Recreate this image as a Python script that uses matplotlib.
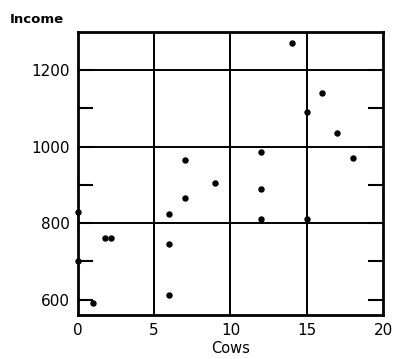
import matplotlib.pyplot as plt

# cows vs income
cows = [0, 0, 1, 1.8, 2.2, 6, 7, 6, 6, 7, 9, 12, 12, 12, 15, 15, 14, 16, 17, 18]
income = [830, 700, 590, 760, 760, 825, 865, 745, 613, 965, 905, 987, 890, 810, 810, 1090, 1270, 1140, 1035, 970]

x_ticks = [0, 5, 10, 15, 20]
y_ticks = [600, 800, 1000, 1200]
x_grid = [5, 10, 15]
y_grid = [800, 1000, 1200]
y_short = [700, 900, 1100]

fig = plt.figure(figsize=(3.93, 3.59), dpi=100)
ax = fig.add_axes([0.198, 0.123, 0.777, 0.788])

ax.scatter(cows, income, s=13, color='black', zorder=3, clip_on=False)

ax.set_xlim(0, 20)
ax.set_ylim(560, 1300)
ax.set_xticks(x_ticks)
ax.set_yticks(y_ticks)
ax.set_yticks(y_short, minor=True)
ax.tick_params(axis='x', which='major', length=0, labelsize=11, pad=6)
ax.tick_params(axis='y', which='both', direction='in', length=11, width=1.5,
               left=True, right=True, labelsize=11, pad=6)

for v in x_grid:
    ax.axvline(v, color='black', linewidth=1.4)
for v in y_grid:
    ax.axhline(v, color='black', linewidth=1.4)
for s in ax.spines.values():
    s.set_linewidth(2)
    s.set_color('black')

fig.text(0.025, 0.945, 'Income', fontsize=9.5, fontweight='bold', ha='left', va='center')
ax.set_xlabel('Cows', fontsize=10.5, labelpad=2)

plt.savefig('out.png', dpi=100)
